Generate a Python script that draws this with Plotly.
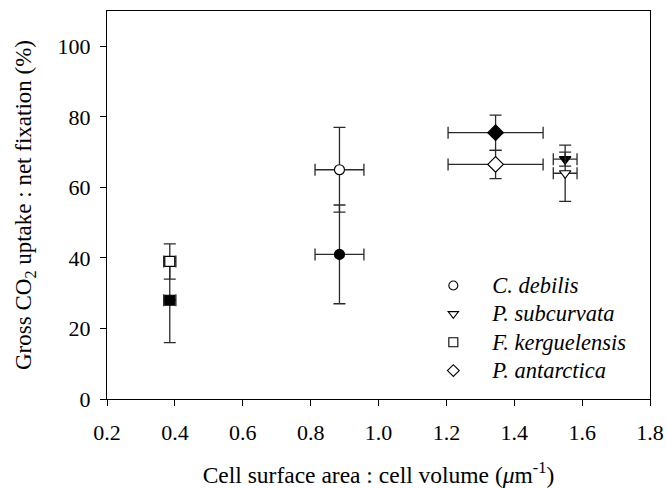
import plotly.graph_objects as go

species = ["C. debilis", "P. subcurvata", "F. kerguelensis", "P. antarctica"]
symbols = ["circle", "triangle-down", "square", "diamond"]
x_vals = [0.885, 1.55, 0.385, 1.345]
x_err = [0.072, 0.035, 0.018, 0.14]
y_open = [65, 64, 39, 66.5]
yerr_open = [12, 8, 5, 4]
y_filled = [41, 68, 28, 75.5]
yerr_filled = [14, 2, 12, 5]

FONT = "Liberation Serif"
ECOL = "#2a2a2a"

fig = go.Figure()

for i, sp in enumerate(species):
    for yv, ye, fill in [(y_filled[i], yerr_filled[i], "black"), (y_open[i], yerr_open[i], "white")]:
        fig.add_trace(go.Scatter(
            x=[x_vals[i]], y=[yv], mode="markers", showlegend=False,
            marker=dict(symbol=symbols[i], size=10 if symbols[i] != "diamond" else 12,
                        color=fill, line=dict(color="black", width=1.2)),
            error_x=dict(type="data", array=[x_err[i]], color=ECOL, thickness=1.3, width=6),
            error_y=dict(type="data", array=[ye], color=ECOL, thickness=1.3, width=6),
        ))

for i, sp in enumerate(species):
    fig.add_trace(go.Scatter(
        x=[None], y=[None], mode="markers",
        name='<span style="font-size:22.5px"><i>%s</i></span>' % sp,
        marker=dict(symbol=symbols[i], size=9, color="white", line=dict(color="black", width=1.1)),
    ))

axis_common = dict(showline=True, linecolor="black", linewidth=1, mirror=True,
                   ticks="outside", ticklen=6, tickcolor="black", showgrid=False, zeroline=False,
                   automargin=False,
                   tickfont=dict(family=FONT, size=22, color="black"))

fig.update_layout(
    width=667, height=488,
    margin=dict(l=107, r=17, t=11, b=89),
    paper_bgcolor="white", plot_bgcolor="white",
    font=dict(family=FONT, color="black"),
    xaxis=dict(range=[0.2, 1.8], dtick=0.2, tickformat=".1f", ticklabelstandoff=8,
               title=dict(text="Cell surface area : cell volume (<i>μ</i>m<sup>-1</sup>)",
                          font=dict(family=FONT, size=23.5), standoff=27),
               **axis_common),
    yaxis=dict(range=[0, 110], tickvals=[0, 20, 40, 60, 80, 100], ticklabelstandoff=5,
               title=dict(text="Gross CO<sub>2</sub> uptake : net fixation (%)",
                          font=dict(family=FONT, size=23), standoff=19),
               **axis_common),
    legend=dict(x=0.566, y=0.342, xanchor="left", yanchor="top",
                bgcolor="rgba(0,0,0,0)", font=dict(family=FONT, size=19.5),
                tracegroupgap=0, itemwidth=68),
)

fig.write_html("out.html")
